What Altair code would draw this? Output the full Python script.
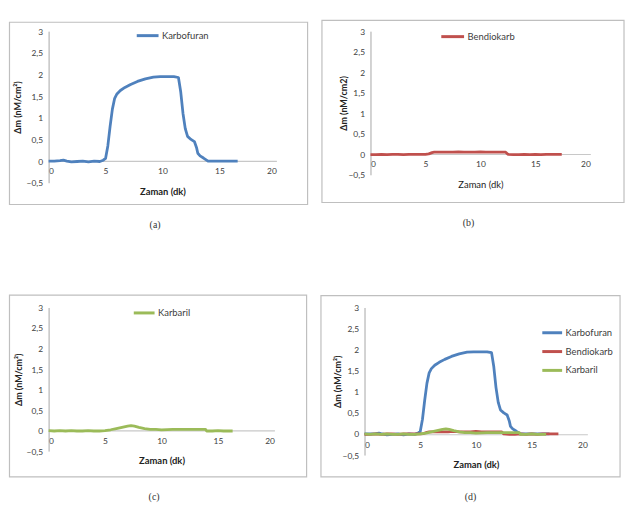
import altair as alt
import pandas as pd

# ---- data ----
karbofuran_x = [0, 0.5, 1, 1.3, 1.6, 2, 2.5, 3, 3.5, 4, 4.5, 4.8, 5.0, 5.2, 5.4, 5.6, 5.8, 6.0, 6.3,
                6.7, 7.2, 7.8, 8.5, 9.2, 9.8, 10.5, 11.0, 11.4, 11.6, 11.8, 12.0, 12.2, 12.5, 12.8,
                13.0, 13.1, 13.3, 13.6, 14.0, 14.5, 15, 15.5, 16, 16.6]
karbofuran_y = [0, 0, 0.01, 0.02, 0, -0.02, -0.01, 0, -0.02, 0, -0.01, 0.02, 0.06, 0.35, 0.8, 1.2,
                1.45, 1.55, 1.63, 1.7, 1.77, 1.84, 1.9, 1.94, 1.95, 1.95, 1.95, 1.93, 1.6, 1.1, 0.75,
                0.57, 0.5, 0.45, 0.3, 0.18, 0.12, 0.07, 0, 0, 0, 0, 0, 0]

bendiokarb_x = [0, 0.5, 1, 1.5, 2, 2.5, 3, 3.5, 4, 4.5, 5, 5.3, 5.6, 5.8, 6.5, 7, 7.5, 8, 8.5, 9,
                9.5, 10, 10.5, 11, 11.5, 12, 12.3, 12.5, 13, 13.5, 14, 14.5, 15, 15.5, 16, 16.5,
                17, 17.4]
bendiokarb_y = [-0.01, -0.01, 0, -0.01, 0, 0, -0.01, 0, 0, 0, 0, 0.01, 0.04, 0.05, 0.05, 0.05,
                0.05, 0.06, 0.05, 0.05, 0.05, 0.06, 0.05, 0.05, 0.05, 0.05, 0.05, 0, -0.01, -0.01,
                0, -0.01, 0, -0.01, 0, 0, 0, 0]

karbaril_x = [0, 0.5, 1, 1.5, 2, 2.5, 3, 3.5, 4, 4.5, 5, 5.5, 6, 6.5, 7, 7.3, 7.6, 8, 8.5, 9, 9.5,
              10, 11, 12, 13, 13.9, 14.0, 14.5, 15, 15.5, 16, 16.3]
karbaril_y = [0, -0.01, 0, -0.01, 0, -0.01, -0.01, 0, -0.01, -0.01, 0, 0.02, 0.05, 0.08, 0.11,
              0.12, 0.11, 0.08, 0.05, 0.03, 0.03, 0.02, 0.03, 0.03, 0.03, 0.03, -0.01, -0.01, 0,
              -0.01, -0.01, -0.01]

series_names = ["Karbofuran", "Bendiokarb", "Karbaril"]
series_colors = ["#4F81BD", "#C0504D", "#9BBB59"]
x_ticks = [0, 5, 10, 15, 20]
y_ticks = [-0.5, 0, 0.5, 1, 1.5, 2, 2.5, 3]

SERIES = {
    "Karbofuran": (karbofuran_x, karbofuran_y),
    "Bendiokarb": (bendiokarb_x, bendiokarb_y),
    "Karbaril": (karbaril_x, karbaril_y),
}
COLORS = dict(zip(series_names, series_colors))
FONT = "Lato"
TXT = "#404040"


def make_df(names):
    frames = []
    for n in names:
        xs, ys = SERIES[n]
        frames.append(pd.DataFrame({"t": xs, "v": ys, "s": n}))
    return pd.concat(frames, ignore_index=True)


def panel(names, w, h, box, caption, cap_xy, leg, ytitle, ytitle_x, xbold=True):
    df = make_df(names)
    line = alt.Chart(df).mark_line(strokeWidth=2.8, strokeJoin="round").encode(
        x=alt.X("t:Q", scale=alt.Scale(domain=[0, 20], nice=False),
                axis=alt.Axis(values=x_ticks, title="Zaman (dk)", offset=-round(h / 7),
                              domainColor="#C8C8C8", domainWidth=1.2, ticks=False, grid=False,
                              labelPadding=6, labelFontSize=8.5, labelFont=FONT, labelColor=TXT,
                              titleFont=FONT, titleFontSize=9.5,
                              titleFontWeight="bold" if xbold else "normal",
                              titleColor="#222", titlePadding=11, minExtent=0)),
        y=alt.Y("v:Q", scale=alt.Scale(domain=[-0.5, 3], nice=False),
                axis=alt.Axis(values=y_ticks, title=ytitle, domainColor="#A6A6A6", ticks=False,
                              grid=False, labelPadding=6, labelFontSize=8.5, labelFont=FONT,
                              labelColor=TXT, minExtent=0, titlePadding=0,
                              labelExpr="replace(format(datum.value, '~g'), /[.]/, ',')",
                              titleFont=FONT, titleFontSize=9, titleFontWeight="bold",
                              titleColor="#222", titleX=ytitle_x, titleY=h / 2,
                              titleBaseline="middle", titleAngle=270)),
        color=alt.Color("s:N", scale=alt.Scale(domain=names, range=[COLORS[n] for n in names]),
                        legend=alt.Legend(orient="none", legendX=leg[0], legendY=leg[1],
                                          direction="vertical", title=None, symbolType="stroke",
                                          symbolStrokeWidth=3, symbolSize=leg[2] ** 2,
                                          labelFont=FONT, labelFontSize=9.5, labelColor=TXT,
                                          labelOffset=2, rowPadding=leg[3], padding=0)),
    )
    frame = alt.Chart(pd.DataFrame({"k": [0]})).mark_rect(
        fill="white", fillOpacity=0, stroke="#BFBFBF", strokeWidth=1.2
    ).encode(x=alt.value(box[0]), x2=alt.value(w + box[1]),
             y=alt.value(box[2]), y2=alt.value(h + box[3]))
    cap = alt.Chart(pd.DataFrame({"k": [0]})).mark_text(
        font="Liberation Serif", fontSize=10, color="#333", baseline="middle"
    ).encode(x=alt.value(cap_xy[0]), y=alt.value(cap_xy[1]), text=alt.value(caption))
    return alt.layer(frame, line, cap).properties(width=w, height=h).resolve_scale(
        color="independent")


pa = panel(["Karbofuran"], 230, 153, (-39.5, 31.5, -9, 22), "(a)", (107.5, 196),
           (87.5, -8, 22, 0), "Δm (nM/cm²)", -31)
pb = panel(["Bendiokarb"], 222, 145, (-49, 34, -11, 28), "(b)", (99, 194),
           (70, -7.5, 23, 0), "Δm (nM/cm2)", -27, xbold=False)
pc = panel(["Karbaril"], 228, 145, (-39.5, 32.5, -12.5, 26), "(c)", (106.5, 191),
           (84.5, -6.5, 21, 0), "Δm (nM/cm²)", -30)
pd_ = panel(series_names, 225, 149, (-44, 33, -12, 22), "(d)", (107, 191),
            (178, 14, 20, 1), "Δm (nM/cm²)", -27)

row1 = alt.hconcat(pa, pb, spacing=12).resolve_scale(color="independent", x="independent",
                                                     y="independent")
row2 = alt.hconcat(pc, pd_, spacing=12).resolve_scale(color="independent", x="independent",
                                                      y="independent")
chart = alt.vconcat(row1, row2, spacing=64).resolve_scale(
    color="independent", x="independent", y="independent"
).properties(padding={"left": 0, "top": 9, "right": 0, "bottom": 0}).configure_view(
    stroke=None
).configure_legend(
    orient="none"
)

chart.save("out.html", embed_options={"renderer": "svg", "actions": False})
